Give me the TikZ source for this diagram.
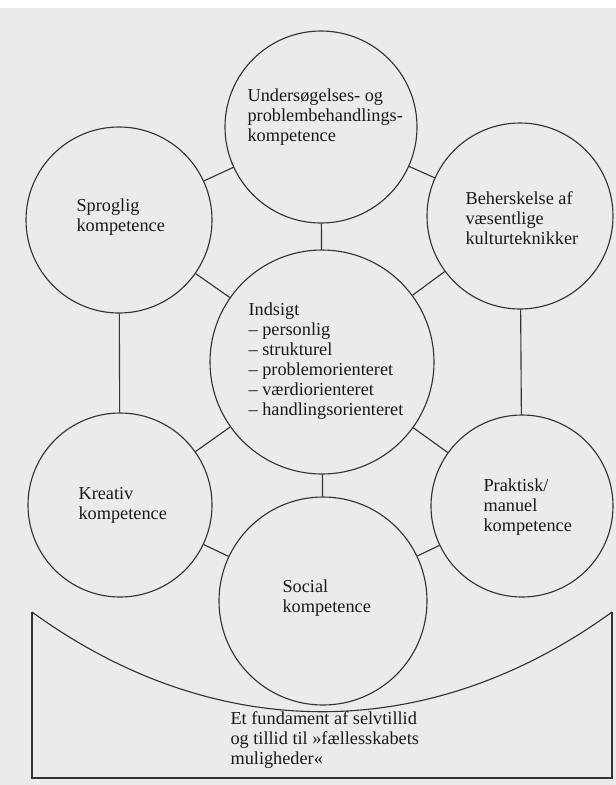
\documentclass[tikz,border=0pt]{standalone}
\usepackage{fontspec}
\setmainfont{Liberation Serif}

\begin{document}
\begin{tikzpicture}[x=0.025cm, y=-0.025cm, line width=0.8pt,
        komp/.style={circle, draw=black!80, inner sep=0pt},
        tekst/.style={anchor=west, align=left, inner sep=0pt, text=black!90,
            font=\fontsize{13}{14.2}\selectfont}]
        % 单位: 1 = 参考图中 1 像素 (y 向下)
        \def\px{0.025cm}

        % 纸面背景
        \useasboundingbox (0,0) rectangle (616,785);
        \fill[black!8] (0,8) rectangle (616,785);

        % 七个圆 (中心, 直径)
        \node[komp, minimum size=192*\px] (under) at (321,127) {};
        \node[komp, minimum size=186*\px] (sprog) at (119,220) {};
        \node[komp, minimum size=186*\px] (behersk) at (520,216) {};
        \node[komp, minimum size=224*\px] (indsigt) at (322,362) {};
        \node[komp, minimum size=184*\px] (kreativ) at (120,505) {};
        \node[komp, minimum size=182*\px] (praktisk) at (522,506) {};
        \node[komp, minimum size=208*\px] (social) at (323,601) {};

        % 圆之间的连线
        \draw[black!80] (sprog) -- (under);
        \draw[black!80] (under) -- (behersk);
        \draw[black!80] (under) -- (indsigt);
        \draw[black!80] (sprog) -- (indsigt);
        \draw[black!80] (behersk) -- (indsigt);
        \draw[black!80] (sprog) -- (kreativ);
        \draw[black!80] (behersk) -- (praktisk);
        \draw[black!80] (kreativ) -- (indsigt);
        \draw[black!80] (praktisk) -- (indsigt);
        \draw[black!80] (kreativ) -- (social);
        \draw[black!80] (praktisk) -- (social);
        \draw[black!80] (indsigt) -- (social);

        % 圆内文字
        \node[tekst] (t-under) at (247,117) {Undersøgelses- og\\problembehandlings-\\kompetence};
        \node[tekst] (t-sprog) at (76,217) {Sproglig\\kompetence};
        \node[tekst] (t-behersk) at (465,218) {Beherskelse af\\væsentlige\\kulturteknikker};
        \node[tekst] (t-indsigt) at (248,361) {Indsigt\\– personlig\\– strukturel\\– problemorienteret\\– værdiorienteret\\– handlingsorienteret};
        \node[tekst] (t-kreativ) at (78,505) {Kreativ\\kompetence};
        \node[tekst] (t-praktisk) at (483,507) {Praktisk/\\manuel\\kompetence};
        \node[tekst] (t-social) at (282,598) {Social\\kompetence};

        % 底部的"碗"形框
        \coordinate (b-tl) at (32,612);
        \coordinate (b-bl) at (32,778);
        \coordinate (b-br) at (612,778);
        \coordinate (b-tr) at (612,612);
        \draw[black!80] (b-tl) -- (b-bl) -- (b-br) -- (b-tr);
        \draw[black!80] (b-tl) to[bend right=36] (b-tr);
        \node[tekst] (t-fundament) at (230,740) {Et fundament af selvtillid\\og tillid til »fællesskabets\\muligheder«};

    \end{tikzpicture}
\end{document}
